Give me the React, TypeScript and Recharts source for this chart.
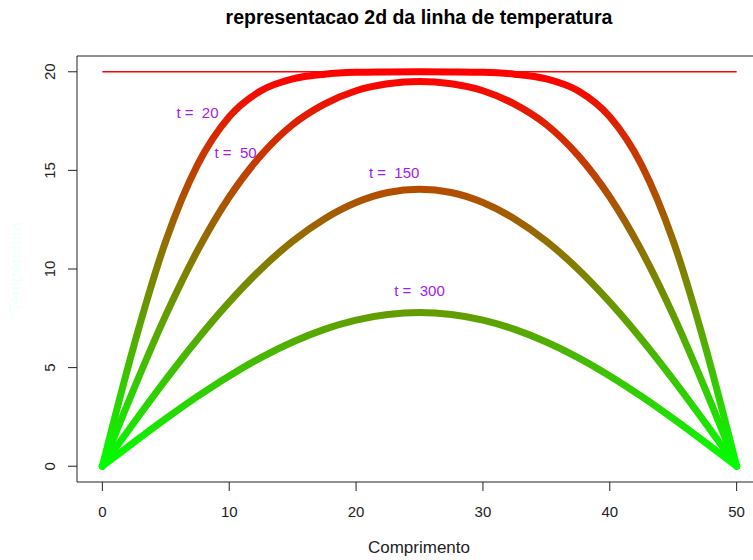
import React from 'react';
import {
  ComposedChart, Line, Scatter, XAxis, YAxis, ReferenceArea,
} from 'recharts';

// position along the bar (Comprimento)
const xs = [0, 2.5, 5, 7.5, 10, 12.5, 15, 17.5, 20, 22.5, 25, 27.5, 30, 32.5, 35, 37.5, 40, 42.5, 45, 47.5, 50];

// temperature profiles, one per time step
const t20 = [0, 6.15, 11.42, 15.28, 17.72, 19.04, 19.64, 19.88, 19.97, 19.99, 20.0, 19.99, 19.97, 19.88, 19.64, 19.04, 17.72, 15.28, 11.42, 6.15, 0];
const t50 = [0, 3.95, 7.66, 10.93, 13.65, 15.76, 17.32, 18.36, 19.04, 19.39, 19.51, 19.39, 19.04, 18.36, 17.32, 15.76, 13.65, 10.93, 7.66, 3.95, 0];
const t150 = [0, 2.22, 4.39, 6.44, 8.32, 9.99, 11.41, 12.54, 13.37, 13.88, 14.04, 13.88, 13.37, 12.54, 11.41, 9.99, 8.32, 6.44, 4.39, 2.22, 0];
const t300 = [0, 1.22, 2.41, 3.54, 4.58, 5.51, 6.30, 6.94, 7.41, 7.69, 7.79, 7.69, 7.41, 6.94, 6.30, 5.51, 4.58, 3.54, 2.41, 1.22, 0];

// initial temperature (red line)
const initialTemp = 20;

const labels = [
  { x: 7.5, y: 17.9, text: 't =  20' },
  { x: 10.5, y: 15.9, text: 't =  50' },
  { x: 23, y: 14.9, text: 't =  150' },
  { x: 25, y: 8.9, text: 't =  300' },
];

const xTicks = [0, 10, 20, 30, 40, 50];
const yTicks = [0, 5, 10, 15, 20];

const rows = xs.map((x, i) => ({
  x,
  t20: t20[i],
  t50: t50[i],
  t150: t150[i],
  t300: t300[i],
  ref: initialTemp,
}));

const FONT = '"Liberation Sans", Arial, sans-serif';
const W = 800;
const H = 560;
const TOP = 56;
const X_AXIS_H = 78;
const Y_AXIS_W = 77;
const PLOT_H = H - TOP - X_AXIS_H;
const Y_MIN = -0.8;
const Y_MAX = 20.8;
// gradient runs from value 0 (green) to value 20 (red)
const yPix = (v: number) => TOP + ((Y_MAX - v) / (Y_MAX - Y_MIN)) * PLOT_H;

const XTick = ({ x, y, payload }: any) => (
  <text x={x} y={y + 26} textAnchor="middle" fontSize={15} fill="#222" fontFamily={FONT}>
    {payload.value}
  </text>
);

const YTick = ({ x, y, payload }: any) => (
  <text
    transform={`translate(${x - 13},${y}) rotate(-90)`}
    textAnchor="middle"
    fontSize={15}
    fill="#222"
    fontFamily={FONT}
  >
    {payload.value}
  </text>
);

const LabelText = ({ cx, cy, payload }: any) => (
  <text
    x={cx}
    y={cy}
    dy="0.35em"
    textAnchor="middle"
    fontSize={15}
    fill="#a020f0"
    fontFamily={FONT}
    style={{ whiteSpace: 'pre' }}
  >
    {payload.text}
  </text>
);

const curveProps = {
  type: 'monotone' as const,
  stroke: 'url(#tempGrad)',
  strokeWidth: 7,
  strokeLinecap: 'round' as const,
  strokeLinejoin: 'round' as const,
  dot: false,
  activeDot: false,
  isAnimationActive: false,
};

export default function App() {
  return (
    <div style={{ position: 'absolute', left: 0, top: 0, width: 753, height: 560, overflow: 'hidden', background: '#fff', fontFamily: FONT }}>
      <div style={{ position: 'absolute', left: 169, top: 6, width: 500, textAlign: 'center', fontSize: 19.5, fontWeight: 'bold', color: '#000' }}>
        representacao 2d da linha de temperatura
      </div>
      <div style={{ position: 'absolute', left: 319, top: 538, width: 200, textAlign: 'center', fontSize: 17, color: '#222' }}>
        Comprimento
      </div>
      <div style={{ position: 'absolute', left: -34, top: 258, width: 100, textAlign: 'center', fontSize: 16, color: '#f0ffff', transform: 'rotate(-90deg)' }}>
        Temperatura
      </div>
      <ComposedChart width={W} height={H} data={rows} margin={{ top: TOP, right: 38, left: 0, bottom: 0 }}>
        <defs>
          <linearGradient id="tempGrad" gradientUnits="userSpaceOnUse" x1={0} x2={0} y1={yPix(0)} y2={yPix(20)}>
            <stop offset="0" stopColor="#00ff00" />
            <stop offset="1" stopColor="#ff0000" />
          </linearGradient>
        </defs>
        <XAxis
          dataKey="x"
          type="number"
          domain={[-2, 52]}
          ticks={xTicks}
          allowDataOverflow
          height={X_AXIS_H}
          axisLine={false}
          tickSize={9}
          tickMargin={0}
          tickLine={{ stroke: '#222' }}
          tick={<XTick />}
          interval={0}
        />
        <YAxis
          type="number"
          domain={[Y_MIN, Y_MAX]}
          ticks={yTicks}
          allowDataOverflow
          width={Y_AXIS_W}
          axisLine={false}
          tickSize={9}
          tickMargin={0}
          tickLine={{ stroke: '#222' }}
          tick={<YTick />}
          interval={0}
        />
        <ReferenceArea x1={-2} x2={52} y1={Y_MIN} y2={Y_MAX} fill="none" stroke="#222" strokeWidth={1} />
        <Line dataKey="ref" type="linear" stroke="#ff0000" strokeWidth={1.5} dot={false} activeDot={false} isAnimationActive={false} />
        <Line dataKey="t20" {...curveProps} />
        <Line dataKey="t50" {...curveProps} />
        <Line dataKey="t150" {...curveProps} />
        <Line dataKey="t300" {...curveProps} />
        <Scatter data={labels} dataKey="y" shape={<LabelText />} isAnimationActive={false} />
      </ComposedChart>
    </div>
  );
}
